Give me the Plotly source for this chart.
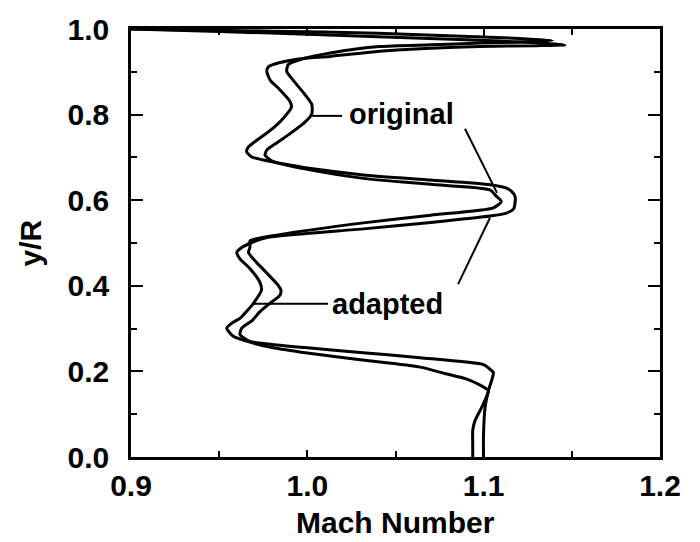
import plotly.graph_objects as go

# ---- data ----
adapted_y = [0.0, 0.03, 0.062, 0.085, 0.116, 0.14, 0.155, 0.17, 0.182, 0.195, 0.21, 0.227, 0.243,
             0.256, 0.266, 0.282, 0.301, 0.315, 0.324, 0.359, 0.39, 0.409, 0.44, 0.463, 0.478,
             0.49, 0.50, 0.513, 0.533, 0.548, 0.563, 0.570, 0.58, 0.594, 0.609, 0.62, 0.628,
             0.636, 0.647, 0.659, 0.675, 0.686, 0.694, 0.701, 0.713, 0.724, 0.763, 0.79, 0.818,
             0.832, 0.86, 0.88, 0.901, 0.912, 0.921, 0.93, 0.936, 0.948, 0.955, 0.959, 0.961,
             0.963, 0.968, 0.975, 0.982, 0.988, 0.994, 1.0]
adapted_m = [1.0938, 1.0938, 1.0938, 1.0951, 1.0989, 1.1015, 1.1027, 1.097, 1.0904, 1.078, 1.064, 1.03, 1.0,
             0.98, 0.9694, 0.958, 0.9543, 0.958, 0.9618, 0.9694, 0.974, 0.973, 0.9675, 0.9618, 0.960,
             0.963, 0.968, 0.977, 1.0318, 1.07, 1.1036, 1.113, 1.117, 1.1178, 1.1178, 1.116, 1.113,
             1.1036, 1.07, 1.0318, 1.0, 0.985, 0.975, 0.9685, 0.9656, 0.9665, 0.979, 0.986, 0.991,
             0.990, 0.984, 0.979, 0.977, 0.978, 0.984, 0.995, 1.013, 1.041, 1.07, 1.098, 1.13,
             1.146, 1.13, 1.09, 1.04, 1.0, 0.95, 0.9]

original_y = [0.0, 0.05, 0.116, 0.155, 0.197, 0.207, 0.216, 0.232, 0.244, 0.255, 0.263, 0.270,
              0.286, 0.301, 0.32, 0.339, 0.36, 0.378, 0.39, 0.401, 0.43, 0.46, 0.478, 0.49, 0.505,
              0.52, 0.547, 0.565, 0.582, 0.597, 0.61, 0.624, 0.637, 0.651, 0.672, 0.69, 0.701,
              0.705, 0.717, 0.735, 0.755, 0.78, 0.801, 0.824, 0.85, 0.88, 0.901, 0.917, 0.93,
              0.944, 0.959, 0.963, 0.967, 0.97, 0.973, 0.978, 0.984, 0.99, 0.995, 1.0]
original_m = [1.0999, 1.0999, 1.1008, 1.1027, 1.1055, 1.103, 1.10, 1.064, 1.03, 1.0, 0.98, 0.9675,
              0.9618, 0.9628, 0.969, 0.973, 0.979, 0.9845, 0.985, 0.9835, 0.977, 0.970, 0.9666, 0.9675, 0.9675,
              0.985, 1.0318, 1.07, 1.1055, 1.110, 1.107, 1.1036, 1.07, 1.0318, 1.0, 0.9807, 0.977,
              0.976, 0.977, 0.983, 0.990, 0.998, 1.0025, 1.0025, 0.998, 0.992, 0.9883, 0.9892, 0.997,
              1.013, 1.041, 1.07, 1.098, 1.125, 1.139, 1.12, 1.08, 1.04, 0.98, 0.9]

x_ticks = [0.9, 1.0, 1.1, 1.2]
y_ticks = [0.0, 0.2, 0.4, 0.6, 0.8, 1.0]

FONT = "Liberation Sans, Arial, sans-serif"

fig = go.Figure()
fig.add_trace(go.Scatter(x=original_m, y=original_y, mode="lines", name="original",
                         line=dict(color="black", width=3, shape="spline", smoothing=0.6)))
fig.add_trace(go.Scatter(x=adapted_m, y=adapted_y, mode="lines", name="adapted",
                         line=dict(color="black", width=3, shape="spline", smoothing=0.6)))

# leader lines for labels
leaders = [
    (1.0025, 0.797, 1.0197, 0.797),
    (1.0894, 0.767, 1.1076, 0.617),
    (0.9692, 0.358, 1.0117, 0.358),
    (1.0855, 0.404, 1.1036, 0.559),
]
for x0, y0, x1, y1 in leaders:
    fig.add_shape(type="line", x0=x0, y0=y0, x1=x1, y1=y1, xref="x", yref="y",
                  line=dict(color="black", width=2))

fig.add_annotation(x=1.0225, y=0.801, text="original", showarrow=False, xanchor="left",
                   yanchor="middle", font=dict(family=FONT, size=29, color="black", weight="bold"))
fig.add_annotation(x=1.0129, y=0.358, text="adapted", showarrow=False, xanchor="left",
                   yanchor="middle", font=dict(family=FONT, size=29, color="black", weight="bold"))

# axis titles
fig.add_annotation(x=0.5, y=-0.152, xref="paper", yref="paper", text="Mach Number",
                   showarrow=False, xanchor="center", yanchor="middle",
                   font=dict(family=FONT, size=30, color="black", weight="bold"))
fig.add_annotation(x=-0.19, y=0.5, xref="paper", yref="paper", text="y/R", textangle=-90,
                   showarrow=False, xanchor="center", yanchor="middle",
                   font=dict(family=FONT, size=30, color="black", weight="bold"))

fig.update_layout(
    width=700, height=542,
    margin=dict(l=131, r=40, t=24, b=85),
    paper_bgcolor="white", plot_bgcolor="white",
    showlegend=False,
    font=dict(family=FONT, color="black"),
)
fig.update_xaxes(
    range=[0.9, 1.2], tickvals=x_ticks, ticktext=[f"{v:.1f}" for v in x_ticks],
    ticks="inside", ticklen=7, tickwidth=2, tickcolor="black",
    minor=dict(tickvals=[0.95, 1.05, 1.15], ticks="inside", ticklen=6, tickwidth=2, tickcolor="black"),
    showline=True, linewidth=2.5, linecolor="black", mirror="ticks",
    showgrid=False, zeroline=False,
    tickfont=dict(family=FONT, size=30, color="black", weight="bold"),
    ticklabelstandoff=0,
)
fig.update_yaxes(
    range=[0, 1], tickvals=y_ticks, ticktext=[f"{v:.1f}" for v in y_ticks],
    ticks="inside", ticklen=12, tickwidth=2, tickcolor="black",
    minor=dict(tickvals=[0.1, 0.3, 0.5, 0.7, 0.9], ticks="inside", ticklen=6, tickwidth=2, tickcolor="black"),
    showline=True, linewidth=2.5, linecolor="black", mirror="ticks",
    showgrid=False, zeroline=False,
    tickfont=dict(family=FONT, size=30, color="black", weight="bold"),
    ticklabelstandoff=13,
)

fig.write_html("out.html")
